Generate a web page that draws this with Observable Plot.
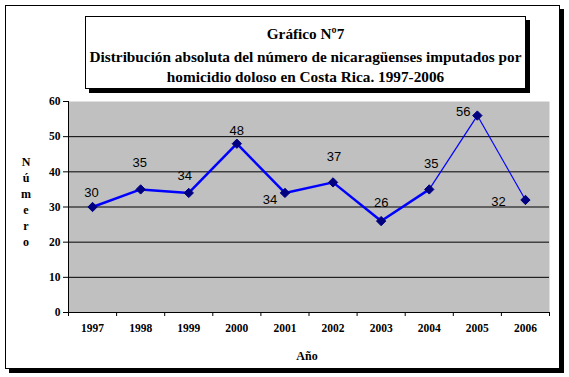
<!DOCTYPE html>
<html>
<head>
<meta charset="utf-8">
<script src="https://cdn.jsdelivr.net/npm/d3@7"></script>
<script src="https://cdn.jsdelivr.net/npm/@observablehq/plot@0.6"></script>
<style>
  html, body { margin: 0; padding: 0; background: #fff; }
  #wrap { position: relative; width: 569px; height: 377px; overflow: hidden; background: #fff; }
  #outer { position: absolute; left: 5px; top: 5px; width: 553px; height: 362px; border: 1px solid #000; box-shadow: 4px 4px 0 #000; background: #fff; }
  #title { position: absolute; left: 85px; top: 16px; width: 439px; height: 71px; border: 1px solid #000; box-shadow: 4px 4px 0 #000; background: #fff;
           font-family: "Liberation Serif", "Times New Roman", serif; font-weight: bold; font-size: 15px; line-height: 21px; text-align: center; white-space: nowrap; }
  #title div { position: relative; }
  #chart { position: absolute; left: 0; top: 0; }
  #ylab { position: absolute; left: 19px; top: 154px; width: 14px; font-family: "Liberation Serif", serif; font-weight: bold; font-size: 12px; line-height: 16px; text-align: center; }
  #xlab { position: absolute; left: 0; width: 614px; top: 349px; font-family: "Liberation Serif", serif; font-weight: bold; font-size: 12px; text-align: center; }
</style>
</head>
<body>
<div id="wrap">
  <div id="outer"></div>
  <div id="chart"></div>
  <div id="title"></div>
  <div id="ylab"></div>
  <div id="xlab"></div>
</div>
<script>
const titleLines = ["Gráfico Nº7", "Distribución absoluta del número de nicaragüenses imputados por", "homicidio doloso en Costa Rica. 1997-2006"];
const yLabel = "Número";
const xLabel = "Año";
const years = [1997, 1998, 1999, 2000, 2001, 2002, 2003, 2004, 2005, 2006];
const values = [30, 35, 34, 48, 34, 37, 26, 35, 56, 32];
const yTicks = [0, 10, 20, 30, 40, 50, 60];
const gridValues = [10, 20, 30, 40, 50];

// label placement offsets (pixels), as in the original chart
const labelDx = [-1, -1, -4, 0, -15, 1, 0, 2, -14, -27];
const labelDy = [-14, -27, -17, -13, 7, -26, -18, -26, -4, 2];

const titleEl = document.getElementById("title");
titleEl.innerHTML = "";
const tops = [6, 29, 49];
titleLines.forEach((t, k) => {
  const d = document.createElement("div");
  d.textContent = t;
  d.style.position = "absolute";
  d.style.left = "0"; d.style.right = "0";
  d.style.top = tops[k] + "px";
  titleEl.appendChild(d);
});
// fit the longest line to the original width (~434px)
const probe = document.createElement("span");
probe.style.cssText = "position:absolute;visibility:hidden;white-space:nowrap;font-family:'Liberation Serif',serif;font-weight:bold;font-size:15px";
probe.textContent = titleLines[1];
document.body.appendChild(probe);
const w = probe.getBoundingClientRect().width;
probe.remove();
const fs = Math.min(17, 15 * 432 / w);
titleEl.style.fontSize = fs + "px";

document.getElementById("ylab").innerHTML = [...yLabel].join("<br>");
document.getElementById("xlab").textContent = xLabel;

const data = years.map((y, i) => ({year: y, value: values[i], i}));
const segs = data.slice(1).map((d, k) => ({x1: data[k].year, y1: data[k].value, x2: d.year, y2: d.value, i: k}));
const bounds = d3.range(years.length + 1).map(k => years[0] - 0.5 + k);

const serif = "Liberation Serif, Times New Roman, serif";

const chart = Plot.plot({
  width: 569,
  height: 377,
  marginLeft: 68,
  marginRight: 20,
  marginTop: 101,
  marginBottom: 65,
  style: {background: "transparent", fontFamily: serif},
  x: {domain: [years[0] - 0.5, years[years.length - 1] + 0.5], axis: null},
  y: {domain: [0, 60], axis: null},
  marks: [
    Plot.frame({fill: "#C0C0C0", stroke: null}),
    Plot.ruleY(gridValues, {stroke: "#000", strokeWidth: 1}),
    Plot.axisY({ticks: yTicks, tickSize: 5, tickPadding: 3, fontSize: 11.5, fontWeight: "bold", label: null, stroke: "#000"}),
    Plot.axisX({ticks: bounds, tickSize: 4, tickFormat: () => "", label: null}),
    Plot.axisX({ticks: years, tickSize: 0, tickPadding: 11, tickFormat: d3.format("d"), fontSize: 11.5, fontWeight: "bold", label: null}),
    Plot.ruleY([0], {stroke: "#000"}),
    Plot.ruleX([years[0] - 0.5], {stroke: "#000"}),
    Plot.link(segs, {x1: "x1", y1: "y1", x2: "x2", y2: "y2", stroke: "#0000FF", strokeWidth: d => d.i >= 7 ? 1.2 : 2.5}),
    Plot.dot(data, {x: "year", y: "value", symbol: "diamond2", r: 4.2, fill: "#000080", stroke: "#000080", strokeWidth: 1}),
    Plot.text(data, {x: "year", y: "value", text: d => String(d.value),
      fontFamily: "Liberation Sans, Arial, sans-serif", fontSize: 13, fill: "#000",
      render: (index, scales, values, dims, ctx, next) => {
        const g = next(index, scales, values, dims, ctx);
        d3.select(g).selectAll("text").each(function(_, k) {
          const i = index[k];
          d3.select(this).attr("transform", `translate(${values.x[i] + labelDx[i]},${values.y[i] + labelDy[i]})`);
        });
        return g;
      }})
  ]
});
document.getElementById("chart").appendChild(chart);
</script>
</body>
</html>
